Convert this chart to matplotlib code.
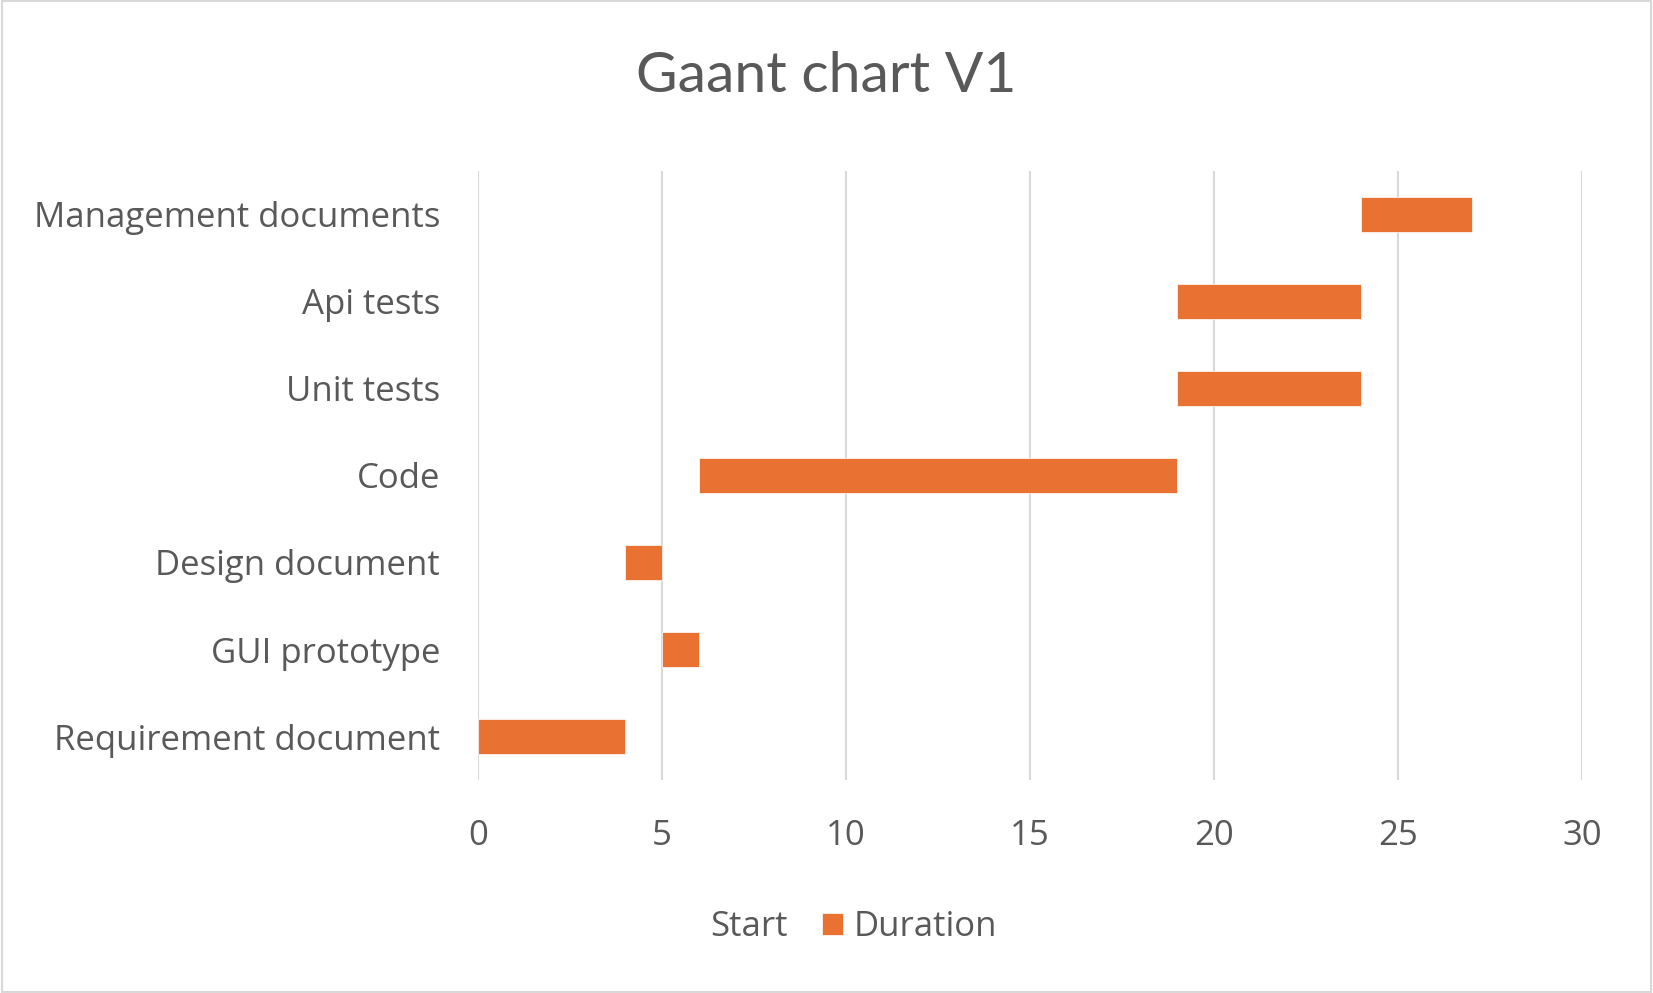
import matplotlib.pyplot as plt
from matplotlib.patches import Rectangle

plt.rcParams['font.family'] = ['Open Sans', 'DejaVu Sans']

# Task data (bottom to top as drawn)
tasks = ['Requirement document', 'GUI prototype', 'Design document', 'Code',
         'Unit tests', 'Api tests', 'Management documents']
start = [0, 5, 4, 6, 19, 19, 24]
duration = [4, 1, 1, 13, 5, 5, 3]

text_color = '#595959'
bar_color = '#E97132'
grid_color = '#D9D9D9'

fig = plt.figure(figsize=(16.53, 9.93), dpi=100)
ax = fig.add_axes([0.289, 0.2145, 0.668, 0.6133])

ypos = range(len(tasks))
ax.barh(ypos, start, height=0.4, color='none', label='Start')
ax.barh(ypos, duration, left=start, height=0.4, color=bar_color,
        edgecolor='white', linewidth=0.5, label='Duration')

ax.set_xlim(0, 30)
ax.set_ylim(-0.5, len(tasks) - 0.5)
ax.set_xticks(range(0, 31, 5))
ax.set_yticks(list(ypos))
ax.set_yticklabels(tasks)
ax.tick_params(axis='y', length=0, pad=27, labelsize=25, labelcolor=text_color)
ax.tick_params(axis='x', length=0, pad=28, labelsize=25, labelcolor=text_color)
ax.grid(axis='x', color=grid_color, linewidth=1.5)
ax.set_axisbelow(True)
for s in ax.spines.values():
    s.set_visible(False)

fig.text(0.5, 0.923, 'Gaant chart V1', ha='center', va='center',
         fontsize=41, color=text_color, family=['Lato', 'DejaVu Sans'])

leg = fig.legend(loc='center', bbox_to_anchor=(0.507, 0.066), ncol=2,
                 frameon=False, fontsize=25, handlelength=0.6, handleheight=0.6,
                 handletextpad=0.3, columnspacing=1.0)
for t in leg.get_texts():
    t.set_color(text_color)

# thin light border around the whole chart
fig.patches.append(Rectangle((0.001, 0.001), 0.998, 0.998, transform=fig.transFigure,
                             fill=False, edgecolor=grid_color, linewidth=1.5))

fig.savefig('out.png', dpi=100)
